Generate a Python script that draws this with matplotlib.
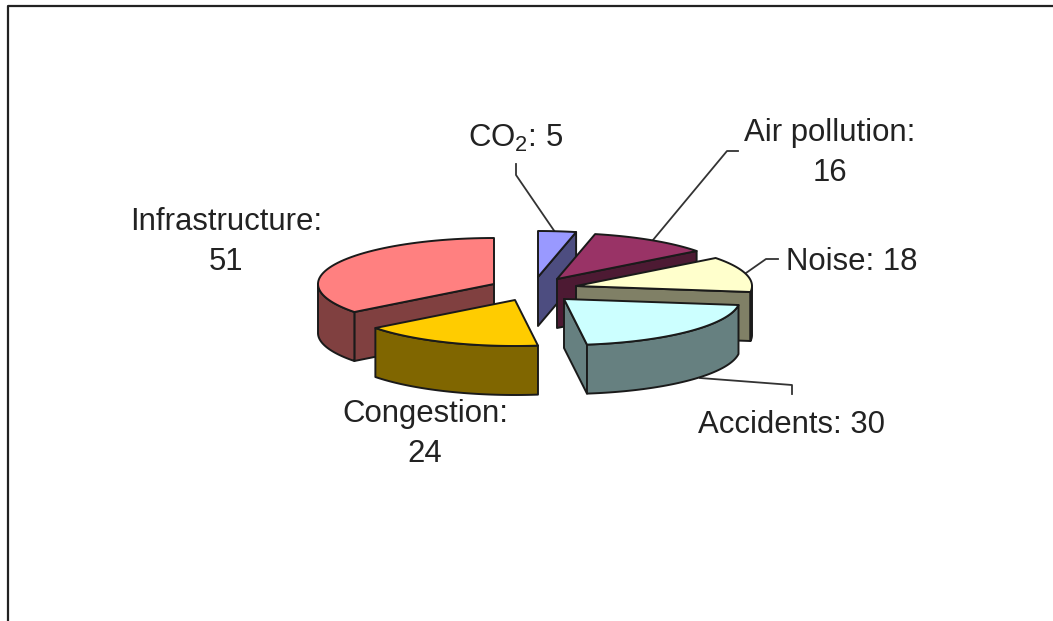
import numpy as np
import matplotlib
matplotlib.use('Agg')
import matplotlib.pyplot as plt
from matplotlib.patches import Polygon

plt.rcParams['font.family'] = ['Liberation Sans', 'DejaVu Sans']
plt.rcParams['mathtext.default'] = 'regular'

# clockwise from 12 o'clock
names = ['CO$_2$', 'Air pollution', 'Noise', 'Accidents', 'Congestion', 'Infrastructure']
values = [5, 16, 18, 30, 24, 51]

top_colors = ['#9999FF', '#993366', '#FFFFCC', '#CCFFFF', '#FFCC00', '#FF8080']
side_colors = ['#4D4D80', '#4D1A33', '#808066', '#668080', '#806600', '#804040']

# exploded apex of each slice, in pixels
apex_x = [538, 557, 576, 564, 515, 494]
apex_y = [277, 279, 286, 299, 300, 284]
# back to front
draw_order = [0, 1, 2, 3, 5, 4]

RX, RY, DEPTH = 176, 46, 49
EDGE = '#1a1a1a'
TXT = '#222222'

fig = plt.figure(figsize=(10.53, 6.21), dpi=100)
ax = fig.add_axes([0, 0, 1, 1])
ax.set_xlim(0, 1053)
ax.set_ylim(621, 0)
ax.axis('off')

# page frame
ax.plot([8, 8, 1053], [621, 6, 6], color='#222222', lw=1.6, zorder=1)

ends = np.cumsum(values) / np.sum(values) * 360.0
starts = ends - np.array(values) / np.sum(values) * 360.0


def rim(i, a, b):
	t = np.radians(np.linspace(a, b, 60))
	return apex_x[i] + RX * np.sin(t), apex_y[i] - RY * np.cos(t)


z = 2
for i in draw_order:
	a, b = starts[i], ends[i]
	style = dict(ec=EDGE, lw=1.4, joinstyle='round', zorder=z)
	# radial faces towards the viewer
	for ang, show in ((a, np.sin(np.radians(a)) < -1e-6), (b, np.sin(np.radians(b)) > 1e-6)):
		if show:
			x, y = rim(i, ang, ang)
			ex, ey = x[0], y[0]
			pts = [(apex_x[i], apex_y[i]), (ex, ey), (ex, ey + DEPTH), (apex_x[i], apex_y[i] + DEPTH)]
			ax.add_patch(Polygon(pts, fc=side_colors[i], **style))
	# outer rim, front half only
	fa, fb = max(a, 90), min(b, 270)
	if fa < fb:
		x, y = rim(i, fa, fb)
		pts = np.r_[np.c_[x, y], np.c_[x, y + DEPTH][::-1]]
		ax.add_patch(Polygon(pts, fc=side_colors[i], **style))
	# top face
	x, y = rim(i, a, b)
	pts = np.r_[[[apex_x[i], apex_y[i]]], np.c_[x, y]]
	ax.add_patch(Polygon(pts, fc=top_colors[i], **style))
	z += 1

# leader lines
leaders = [
	([516, 516, 555], [164, 175, 232]),
	([738, 727, 653], [151, 151, 240]),
	([778, 766, 746], [259, 259, 273]),
	([700, 792, 792], [378, 385, 394]),
]
for lx, ly in leaders:
	ax.plot(lx, ly, color='#333333', lw=1.3, zorder=1.5)

# labels
fs = 22.4
lab = dict(fontsize=fs, color=TXT, ha='center', va='center', linespacing=1.4, zorder=20)
ax.text(516, 138, f'{names[0]}: {values[0]}', **lab)
ax.text(830, 153, f'{names[1]}:\n{values[1]}', **lab)
ax.text(852, 262, f'{names[2]}: {values[2]}', **lab)
ax.text(792, 425, f'{names[3]}: {values[3]}', **lab)
ax.text(425, 434, f'{names[4]}:\n{values[4]}', **lab)
ax.text(226, 242, f'{names[5]}:\n{values[5]}', **lab)

fig.savefig('out.png', dpi=100)
